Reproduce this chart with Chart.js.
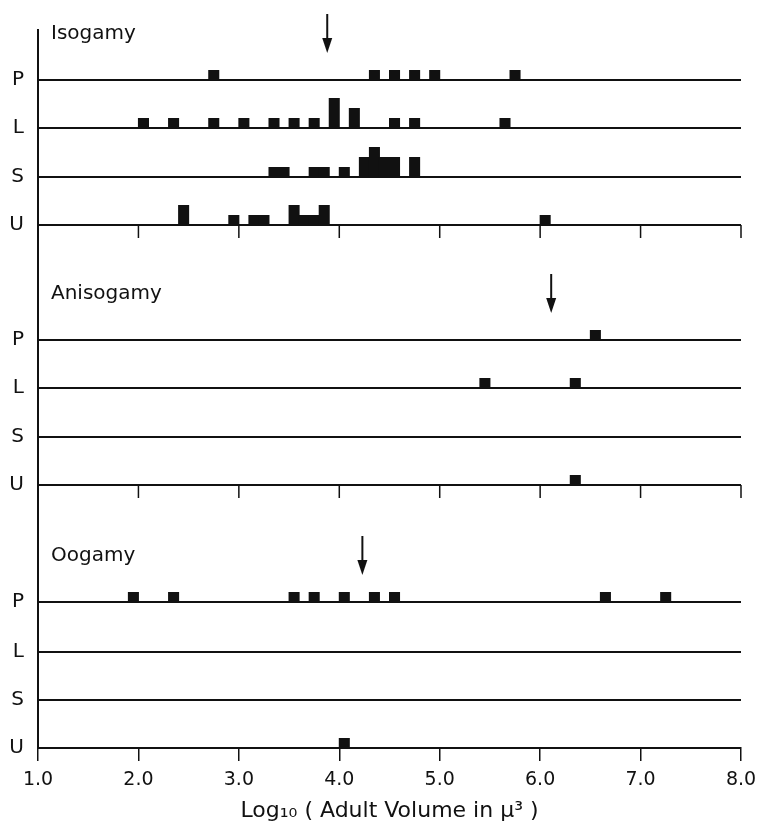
<!DOCTYPE html>
<html>
<head>
<meta charset="utf-8">
<script src="https://cdn.jsdelivr.net/npm/chart.js@4/dist/chart.umd.min.js"></script>
<style>
  body { margin: 0; background: #fff; }
  canvas { display: block; }
</style>
</head>
<body>
<canvas id="histChart" width="760" height="828"></canvas>
<script>
// groups and rows
const groups = ['Isogamy', 'Anisogamy', 'Oogamy'];
const rowLabels = ['P', 'L', 'S', 'U'];
const xTicks = [1, 2, 3, 4, 5, 6, 7, 8];
// arrow marks (log10 volume) per group
const arrowValues = [3.88, 6.11, 4.23];

// bin centres (log10 adult volume) and counts for each row
const isoP_x = [2.75, 4.35, 4.55, 4.75, 4.95, 5.75];
const isoP_n = [1, 1, 1, 1, 1, 1];
const isoL_x = [2.05, 2.35, 2.75, 3.05, 3.35, 3.55, 3.75, 3.95, 4.15, 4.55, 4.75, 5.65];
const isoL_n = [1, 1, 1, 1, 1, 1, 1, 3, 2, 1, 1, 1];
const isoS_x = [3.35, 3.45, 3.75, 3.85, 4.05, 4.25, 4.35, 4.45, 4.55, 4.75];
const isoS_n = [1, 1, 1, 1, 1, 2, 3, 2, 2, 2];
const isoU_x = [2.45, 2.95, 3.15, 3.25, 3.55, 3.65, 3.75, 3.85, 6.05];
const isoU_n = [2, 1, 1, 1, 2, 1, 1, 2, 1];

const anisoP_x = [6.55];
const anisoP_n = [1];
const anisoL_x = [5.45, 6.35];
const anisoL_n = [1, 1];
const anisoS_x = [];
const anisoS_n = [];
const anisoU_x = [6.35];
const anisoU_n = [1];

const ooP_x = [1.95, 2.35, 3.55, 3.75, 4.05, 4.35, 4.55, 6.65, 7.25];
const ooP_n = [1, 1, 1, 1, 1, 1, 1, 1, 1];
const ooL_x = [];
const ooL_n = [];
const ooS_x = [];
const ooS_n = [];
const ooU_x = [4.05];
const ooU_n = [1];

// layout: baseline of each row on the stacked y scale (count units)
const rowBase = [66.8, 62.0, 57.1, 52.3, 40.8, 36.0, 31.1, 26.3, 14.6, 9.6, 4.8, 0];
const yTop = 71.8;

const rows = [
  [isoP_x, isoP_n], [isoL_x, isoL_n], [isoS_x, isoS_n], [isoU_x, isoU_n],
  [anisoP_x, anisoP_n], [anisoL_x, anisoL_n], [anisoS_x, anisoS_n], [anisoU_x, anisoU_n],
  [ooP_x, ooP_n], [ooL_x, ooL_n], [ooS_x, ooS_n], [ooU_x, ooU_n]
];

const bars = [];
rows.forEach(function(r, i) {
  r[0].forEach(function(x, j) {
    bars.push({ x: x, y: [rowBase[i], rowBase[i] + r[1][j]] });
  });
});

const FONT = "'DejaVu Sans', sans-serif";
const INK = '#111';

// titles, arrows and the tick marks under the upper two groups
const extras = {
  id: 'extras',
  afterDraw(chart) {
    const ctx = chart.ctx;
    const xs = chart.scales.x;
    const ys = chart.scales.y;
    ctx.save();
    ctx.strokeStyle = INK;
    ctx.fillStyle = INK;
    groups.forEach(function(name, g) {
      const pY = ys.getPixelForValue(rowBase[g * 4]);
      ctx.font = '20px ' + FONT;
      ctx.textAlign = 'left';
      ctx.textBaseline = 'alphabetic';
      ctx.fillText(name, chart.chartArea.left + 13, pY - 41);

      const ax = xs.getPixelForValue(arrowValues[g]);
      const tip = pY - 27;
      ctx.lineWidth = 2;
      ctx.beginPath();
      ctx.moveTo(ax, tip - 39);
      ctx.lineTo(ax, tip - 12);
      ctx.stroke();
      ctx.beginPath();
      ctx.moveTo(ax - 5, tip - 15);
      ctx.lineTo(ax + 5, tip - 15);
      ctx.lineTo(ax, tip);
      ctx.closePath();
      ctx.fill();

      if (g < 2) {
        const uY = ys.getPixelForValue(rowBase[g * 4 + 3]);
        ctx.lineWidth = 1.5;
        xTicks.forEach(function(t) {
          const tx = xs.getPixelForValue(t);
          ctx.beginPath();
          ctx.moveTo(tx, uY);
          ctx.lineTo(tx, uY + 13);
          ctx.stroke();
        });
      }
    });
    ctx.restore();
  }
};

const config = {
  type: 'bar',
  data: {
    datasets: [{
      data: bars,
      backgroundColor: INK,
      borderWidth: 0,
      barPercentage: 1.1,
      categoryPercentage: 1
    }]
  },
  options: {
    responsive: false,
    animation: false,
    layout: { padding: { top: 30, right: 19, left: 0, bottom: 0 } },
    plugins: {
      legend: { display: false },
      tooltip: { enabled: false }
    },
    scales: {
      x: {
        type: 'linear',
        min: 1,
        max: 8,
        offset: false,
        afterBuildTicks: function(scale) {
          scale.ticks = xTicks.map(function(v) { return { value: v }; });
        },
        afterFit: function(scale) {
          scale.height = 80;
          scale.paddingLeft = 0;
          scale.paddingRight = 0;
        },
        ticks: {
          color: INK,
          padding: 8,
          font: { family: FONT, size: 19 },
          callback: function(v) { return Number(v).toFixed(1); }
        },
        grid: {
          offset: false,
          drawOnChartArea: false,
          drawTicks: true,
          tickLength: 13,
          color: INK,
          lineWidth: 1.5
        },
        border: { display: true, color: INK, width: 2 },
        title: {
          display: true,
          text: 'Log\u2081\u2080 ( Adult Volume in \u03bc\u00b3 )',
          color: INK,
          font: { family: FONT, size: 22 },
          padding: { top: 4, bottom: 4 }
        }
      },
      y: {
        type: 'linear',
        min: 0,
        max: yTop,
        afterBuildTicks: function(scale) {
          scale.ticks = rowBase.map(function(v) { return { value: v }; });
        },
        afterFit: function(scale) { scale.width = 38; },
        ticks: {
          color: INK,
          padding: 14,
          font: { family: FONT, size: 20 },
          callback: function(v, i) { return rowLabels[i % 4]; }
        },
        grid: {
          drawTicks: false,
          color: INK,
          lineWidth: 2
        },
        border: { display: true, color: INK, width: 2 }
      }
    }
  },
  plugins: [extras]
};

new Chart(document.getElementById('histChart').getContext('2d'), config);
</script>
</body>
</html>
